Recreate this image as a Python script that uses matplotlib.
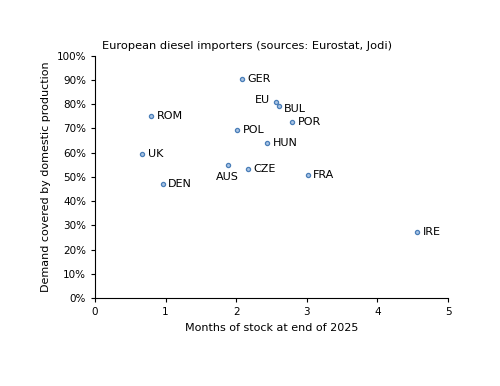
import matplotlib.pyplot as plt
from matplotlib.ticker import PercentFormatter

countries = ['GER', 'EU', 'BUL', 'ROM', 'POR', 'POL', 'HUN', 'UK', 'AUS', 'CZE', 'FRA', 'DEN', 'IRE']
months_stock = [2.08, 2.56, 2.60, 0.80, 2.79, 2.01, 2.44, 0.67, 1.89, 2.17, 3.01, 0.96, 4.56]
domestic_share = [90.5, 81.0, 79.1, 74.9, 72.7, 69.4, 63.9, 59.5, 54.9, 53.1, 50.9, 46.9, 27.4]

# label offsets in points (dx, dy) and alignment
offsets = {'EU': (-4, 1, 'right', 'center'),
           'AUS': (-1, -5, 'center', 'top'),
           'BUL': (4, -2, 'left', 'center')}

plt.rcParams['font.family'] = ['DejaVu Sans']
fig = plt.figure(figsize=(5, 3.86), dpi=100)
ax = fig.add_axes([0.19, 0.228, 0.706, 0.628])

ax.scatter(months_stock, domestic_share, s=9, facecolor='#a9c4e4', edgecolor='#4a7eb8', linewidth=0.9, zorder=3)
for name, x, y in zip(countries, months_stock, domestic_share):
    dx, dy, ha, va = offsets.get(name, (4, 0, 'left', 'center'))
    ax.annotate(name, (x, y), xytext=(dx, dy), textcoords='offset points',
                ha=ha, va=va, fontsize=8)

ax.set_xlim(0, 5)
ax.set_ylim(0, 100)
ax.set_xticks(range(0, 6))
ax.set_yticks(range(0, 101, 10))
ax.yaxis.set_major_formatter(PercentFormatter(decimals=0))
ax.tick_params(labelsize=7.5, direction='out', length=3, width=0.8)
for s in ['top', 'right']:
    ax.spines[s].set_visible(False)
ax.spines['left'].set_linewidth(0.8)
ax.spines['bottom'].set_linewidth(0.8)

ax.set_xlabel('Months of stock at end of 2025', fontsize=8)
ax.set_ylabel('Demand covered by domestic production', fontsize=8)
fig.text(0.495, 0.88, 'European diesel importers (sources: Eurostat, Jodi)', fontsize=8.2, ha='center', va='center')

fig.savefig('out.png', dpi=100)
